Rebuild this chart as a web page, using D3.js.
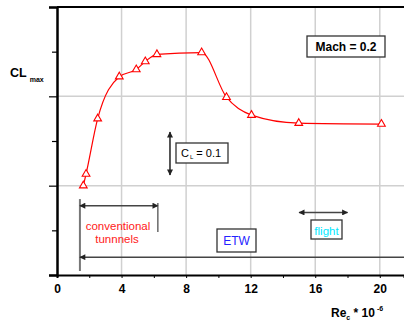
<!DOCTYPE html>
<html>
<head>
<meta charset="utf-8">
<script src="https://cdn.jsdelivr.net/npm/d3@7"></script>
<style>
  html, body { margin: 0; padding: 0; background: #fff; }
  svg { display: block; font-family: "Liberation Sans", Arial, sans-serif; }
</style>
</head>
<body>
<svg id="chart" width="404" height="322"></svg>
<script>
// data
const reNumbers = [1.63, 1.80, 2.52, 3.86, 4.91, 5.47, 6.19, 8.96, 10.5, 12.05, 14.98, 20.1];
const clMax = [1.00, 1.13, 1.75, 2.22, 2.30, 2.39, 2.47, 2.49, 1.99, 1.79, 1.70, 1.69];
const xTickLabels = [0, 4, 8, 12, 16, 20];
const xMinorTicks = [2, 6, 10, 14, 18];
const yMajorTicks = [0, 1, 2, 3];
const yMinorTicks = [0.5, 1.5, 2.5];
const conventionalRange = [1.42, 6.25];
const flightRange = [15, 18];

const svg = d3.select("#chart");

const x = d3.scaleLinear().domain([0, 21.5]).range([57, 404]);
const y = d3.scaleLinear().domain([0, 3]).range([275, 7]);

// ── Grid ──────────────────────────────────────────────
const grid = svg.append("g").attr("stroke", "#d0d0d0").attr("stroke-width", 1.5);
grid.selectAll("line.v").data(xTickLabels.filter(d => d > 0)).enter().append("line")
  .attr("x1", d => x(d)).attr("x2", d => x(d))
  .attr("y1", y(3)).attr("y2", y(0));
grid.selectAll("line.h").data([1, 2]).enter().append("line")
  .attr("x1", x(0)).attr("x2", 404)
  .attr("y1", d => y(d)).attr("y2", d => y(d));

// ── Axes ──────────────────────────────────────────────
const xAxis = svg.append("g").attr("transform", `translate(0,${y(0)})`)
  .call(d3.axisBottom(x).tickValues(xTickLabels).tickSize(3).tickPadding(6));
xAxis.select(".domain").attr("stroke", "#000").attr("stroke-width", 2);
xAxis.selectAll("text").attr("font-size", 12).attr("font-weight", "bold")
  .attr("font-family", "Liberation Sans, Arial, sans-serif").attr("fill", "#000");
svg.append("g").attr("transform", `translate(0,${y(0)})`)
  .call(d3.axisBottom(x).tickValues(xMinorTicks).tickSize(3).tickFormat(""))
  .select(".domain").remove();

const yAxis = svg.append("g").attr("transform", `translate(${x(0)},0)`)
  .call(d3.axisLeft(y).tickValues(yMajorTicks).tickSize(8).tickFormat(""));
yAxis.select(".domain").attr("stroke", "#000").attr("stroke-width", 2.5);
yAxis.selectAll(".tick line").attr("stroke-width", 1.2);
svg.append("g").attr("transform", `translate(${x(0)},0)`)
  .call(d3.axisLeft(y).tickValues(yMinorTicks).tickSize(5).tickFormat(""))
  .call(g => g.select(".domain").remove())
  .selectAll(".tick line").attr("stroke-width", 1.2);

// top frame
svg.append("line").attr("x1", x(0)).attr("x2", 404).attr("y1", y(3)).attr("y2", y(3))
  .attr("stroke", "#000").attr("stroke-width", 2);

// ── Curve + markers ───────────────────────────────────
const pts = reNumbers.map((r, i) => [r, clMax[i]]);
svg.append("path").datum(pts)
  .attr("fill", "none").attr("stroke", "#ff0000").attr("stroke-width", 1.2)
  .attr("d", d3.line().x(d => x(d[0])).y(d => y(d[1])).curve(d3.curveMonotoneX));
svg.selectAll("path.tri").data(pts).enter().append("path")
  .attr("class", "tri")
  .attr("transform", d => `translate(${x(d[0])},${y(d[1])})`)
  .attr("d", d3.symbol(d3.symbolTriangle, 26))
  .attr("fill", "#fff").attr("stroke", "#ff0000").attr("stroke-width", 1.1);

// ── Annotations ───────────────────────────────────────
const defs = svg.append("defs");
defs.append("marker").attr("id", "ah").attr("viewBox", "0 -5 10 10")
  .attr("refX", 9).attr("refY", 0).attr("markerWidth", 5).attr("markerHeight", 4)
  .attr("orient", "auto-start-reverse")
  .append("path").attr("d", "M0,-5L10,0L0,5Z").attr("fill", "#222");

const ann = svg.append("g").attr("stroke", "#444").attr("stroke-width", 1.5).attr("fill", "none");
// conventional tunnels
ann.append("line").attr("stroke", "#777").attr("stroke-width", 2)
  .attr("x1", x(conventionalRange[0])).attr("x2", x(conventionalRange[0]))
  .attr("y1", y(0.85)).attr("y2", y(0.045));
ann.append("line")
  .attr("x1", x(conventionalRange[0])).attr("x2", x(conventionalRange[1]))
  .attr("y1", y(0.776)).attr("y2", y(0.776))
  .attr("marker-start", "url(#ah)").attr("marker-end", "url(#ah)");
ann.append("line").attr("stroke-width", 1.2)
  .attr("x1", x(conventionalRange[1])).attr("x2", x(conventionalRange[1]))
  .attr("y1", y(0.806)).attr("y2", y(0.48));
// ETW
ann.append("line")
  .attr("x1", 404).attr("x2", x(conventionalRange[0]))
  .attr("y1", y(0.2)).attr("y2", y(0.2))
  .attr("marker-end", "url(#ah)");
// flight
ann.append("line")
  .attr("x1", x(flightRange[0])).attr("x2", x(flightRange[1]))
  .attr("y1", y(0.7)).attr("y2", y(0.7))
  .attr("marker-start", "url(#ah)").attr("marker-end", "url(#ah)");
// delta CL arrow
ann.append("line").attr("stroke", "#222")
  .attr("x1", x(7)).attr("x2", x(7))
  .attr("y1", y(1.6)).attr("y2", y(1.12))
  .attr("marker-start", "url(#ah)").attr("marker-end", "url(#ah)");

function box(x0, y0, w, h) {
  svg.append("rect").attr("x", x0).attr("y", y0).attr("width", w).attr("height", h)
    .attr("fill", "#fff").attr("stroke", "#333").attr("stroke-width", 1.3);
}
box(307, 36, 78, 21);
box(176, 143, 52, 20);
box(217, 229, 39, 23);
box(311, 220, 31, 19);

svg.append("text").attr("x", 346).attr("y", 51).attr("text-anchor", "middle")
  .attr("font-size", 12).attr("font-weight", "bold").text("Mach = 0.2");

const cl = svg.append("text").attr("x", 181).attr("y", 157).attr("font-size", 11);
cl.append("tspan").text("C");
cl.append("tspan").attr("font-size", 6).attr("dy", 2).attr("dx", 1).text("L");
cl.append("tspan").attr("dy", -2).text(" = 0.1");

svg.append("text").attr("x", 236.5).attr("y", 245).attr("text-anchor", "middle")
  .attr("font-size", 12).attr("fill", "#2424ff").text("ETW");
svg.append("text").attr("x", 326.5).attr("y", 234.5).attr("text-anchor", "middle")
  .attr("font-size", 11.5).attr("fill", "#00e8ff").text("flight");

const conv = svg.append("text").attr("text-anchor", "middle").attr("font-size", 11.5).attr("fill", "#ff2020");
conv.append("tspan").attr("x", 118).attr("y", 229.5).text("conventional");
conv.append("tspan").attr("x", 117).attr("y", 243).text("tunnnels");

// axis titles
const yl = svg.append("text").attr("x", 10).attr("y", 77).attr("font-weight", "bold");
yl.append("tspan").attr("font-size", 12.5).text("CL");
yl.append("tspan").attr("font-size", 7).attr("dx", 3).attr("dy", 5).text("max");

const xl = svg.append("text").attr("x", 331).attr("y", 317).attr("font-weight", "bold").attr("font-size", 12);
xl.append("tspan").text("Re");
xl.append("tspan").attr("font-size", 7).attr("dy", 3).text("c");
xl.append("tspan").attr("dy", -3).text(" * 10");
xl.append("tspan").attr("font-size", 7).attr("dy", -6).attr("dx", 2).text("-6");
</script>
</body>
</html>
